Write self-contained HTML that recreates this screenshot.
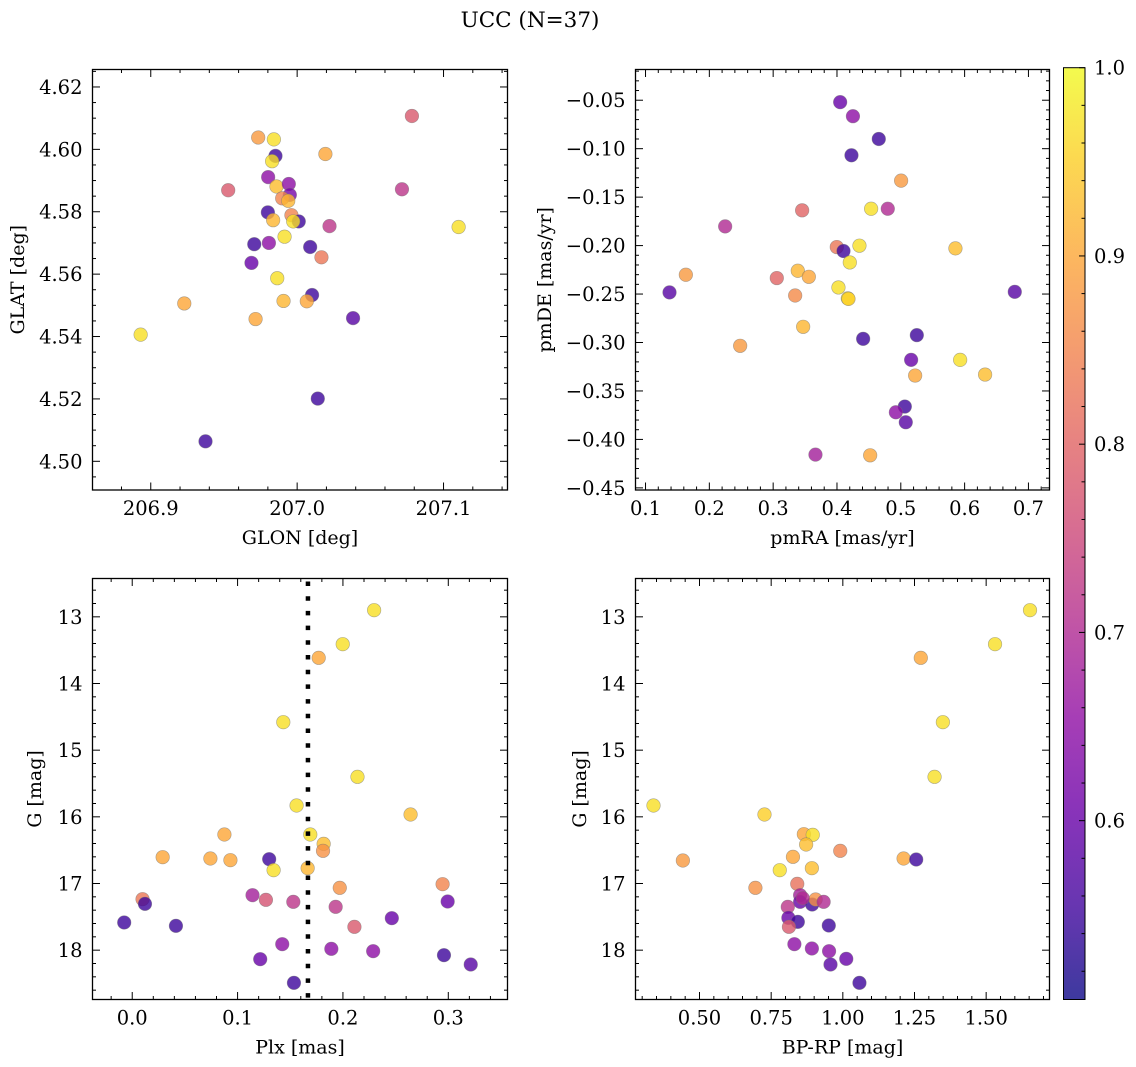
<!DOCTYPE html>
<html><head><meta charset="utf-8"><style>
html,body{margin:0;padding:0;background:#fff;}
svg{display:block;font-family:"DejaVu Serif","Liberation Serif",serif;}
</style></head><body>
<svg id="fig" width="1136" height="1067" viewBox="0 0 1136 1067" xmlns="http://www.w3.org/2000/svg">
<defs><linearGradient id="cbgrad" x1="0" y1="1" x2="0" y2="0"></linearGradient></defs>
<text x="530" y="27" font-size="21.5" text-anchor="middle">UCC (N=37)</text>
</svg>
<script>
// ---- Panel 1: GLON vs GLAT ----
const glon=[207.0784,206.9734,206.9841,207.0193,206.9852,206.9829,206.9529,206.9802,206.9859,206.9943,207.0716,206.9950,206.9898,206.9939,206.9800,206.9961,207.0011,206.9973,206.9836,207.0221,207.1103,206.9914,206.9707,206.9807,207.0089,207.0166,206.9688,206.9864,206.9229,207.0102,206.9907,207.0066,206.9716,207.0382,206.8931,207.0141,206.9374];
const glat=[4.6107,4.6038,4.6032,4.5985,4.5979,4.5962,4.5869,4.5911,4.5881,4.5889,4.5872,4.5854,4.5843,4.5835,4.5798,4.5789,4.5769,4.5769,4.5773,4.5754,4.5751,4.5720,4.5696,4.5700,4.5687,4.5654,4.5636,4.5587,4.5506,4.5533,4.5514,4.5513,4.5456,4.5459,4.5406,4.5201,4.5064];
const prob1=[0.78,0.88,0.97,0.9,0.55,0.97,0.78,0.65,0.93,0.65,0.72,0.62,0.85,0.92,0.55,0.85,0.55,0.97,0.92,0.72,0.97,0.97,0.55,0.65,0.55,0.83,0.6,0.97,0.9,0.55,0.92,0.9,0.9,0.58,0.97,0.55,0.55];
// ---- Panel 2: pmRA vs pmDE ----
const pmra=[0.405,0.425,0.4655,0.4227,0.5005,0.4535,0.4796,0.3454,0.2248,0.3997,0.4102,0.4352,0.5856,0.4201,0.1632,0.3057,0.3386,0.3559,0.1376,0.6786,0.4023,0.3345,0.4170,0.4180,0.3470,0.4410,0.5251,0.2483,0.5162,0.5930,0.5225,0.6321,0.5063,0.4922,0.5078,0.3663,0.4520];
const pmde=[-0.052,-0.0665,-0.090,-0.1068,-0.133,-0.162,-0.162,-0.1636,-0.1802,-0.2015,-0.2056,-0.2001,-0.2029,-0.2174,-0.2301,-0.2335,-0.226,-0.2322,-0.2483,-0.2477,-0.2432,-0.2515,-0.2545,-0.2550,-0.2838,-0.2962,-0.2924,-0.3034,-0.3179,-0.3179,-0.3341,-0.3331,-0.3661,-0.3720,-0.3823,-0.4157,-0.4164];
const prob2=[0.6,0.65,0.55,0.55,0.88,0.97,0.7,0.8,0.7,0.83,0.55,0.97,0.93,0.97,0.88,0.8,0.92,0.9,0.58,0.58,0.97,0.86,0.97,0.95,0.92,0.55,0.55,0.88,0.6,0.97,0.9,0.93,0.55,0.65,0.58,0.68,0.9];
// ---- Panel 3: Plx vs G ----
const plx=[0.2296,0.1998,0.1770,0.1434,0.2138,0.1560,0.2642,0.0875,0.1690,0.1817,0.1811,0.0289,0.0742,0.0932,0.1300,0.1342,0.1665,0.1970,0.2946,0.0098,0.0121,0.1142,0.1269,0.1529,0.1931,0.2994,0.2464,0.2109,-0.0076,0.0415,0.1424,0.1890,0.2287,0.2959,0.1215,0.3213,0.1535];
const gmag3=[12.90,13.41,13.615,14.58,15.40,15.83,15.965,16.265,16.265,16.405,16.51,16.605,16.625,16.65,16.635,16.80,16.77,17.065,17.01,17.235,17.305,17.175,17.245,17.275,17.35,17.27,17.52,17.65,17.585,17.635,17.91,17.98,18.015,18.075,18.135,18.215,18.49];
const prob3=[0.97,0.97,0.9,0.97,0.97,0.97,0.93,0.9,0.97,0.93,0.87,0.9,0.9,0.9,0.55,0.97,0.92,0.87,0.85,0.83,0.55,0.68,0.77,0.72,0.72,0.6,0.6,0.78,0.55,0.55,0.65,0.65,0.65,0.55,0.6,0.58,0.55];
const plxMean=[0.1668];
// ---- Panel 4: BP-RP vs G ----
const bprp=[1.653,1.531,1.272,1.349,1.320,0.3395,0.7267,0.864,0.895,0.872,0.991,0.826,0.442,1.212,1.256,0.892,0.780,0.695,0.841,0.851,0.851,0.893,0.905,0.933,0.808,0.810,0.843,0.812,0.951,0.831,0.892,0.952,1.012,0.957,1.058,0.860];
const gmag4=[12.90,13.41,13.615,14.58,15.40,15.83,15.965,16.26,16.27,16.415,16.51,16.60,16.655,16.625,16.64,16.77,16.80,17.065,17.005,17.175,17.275,17.315,17.24,17.275,17.35,17.515,17.575,17.65,17.63,17.91,17.975,18.015,18.13,18.215,18.49,17.22];
const prob4=[0.97,0.97,0.9,0.97,0.97,0.97,0.95,0.9,0.97,0.93,0.85,0.9,0.88,0.9,0.55,0.93,0.97,0.87,0.82,0.68,0.6,0.55,0.87,0.7,0.72,0.6,0.55,0.78,0.55,0.65,0.65,0.65,0.6,0.58,0.55,0.7];
// ---- Colorbar ----
const cbMin=0.505, cbMax=1.0;
const cbTicks=[0.6,0.7,0.8,0.9,1.0];

const NS="http://www.w3.org/2000/svg";
const svg=document.getElementById('fig');
const plasmaStops=[[13,8,135],[65,4,157],[106,0,168],[143,13,164],[177,42,144],[204,71,120],[225,100,98],[242,132,75],[252,166,54],[252,206,37],[240,249,33]];
function plasma(t){t=Math.max(0,Math.min(1,t));const f=t*10,i=Math.min(9,Math.floor(f)),r=f-i;const a=plasmaStops[i],b=plasmaStops[i+1];return 'rgb('+a.map((v,k)=>Math.round(v+(b[k]-v)*r)).join(',')+')';}
function mk(tag,attrs,parent){const e=document.createElementNS(NS,tag);for(const k in attrs)e.setAttribute(k,attrs[k]);(parent||svg).appendChild(e);return e;}
function fmt(v,d){let s=Math.abs(v)<1e-9?(0).toFixed(d):v.toFixed(d);return s.replace('-','\u2212');}

function panel(o){
  const g=mk('g',{});
  
  
  const sx=v=>o.x0+(v-o.xmin)/(o.xmax-o.xmin)*(o.x1-o.x0);
  const sy=o.inv?(v=>o.y0+(v-o.ymin)/(o.ymax-o.ymin)*(o.y1-o.y0)):(v=>o.y1-(v-o.ymin)/(o.ymax-o.ymin)*(o.y1-o.y0));
  const lo=Math.min(o.ymin,o.ymax),hi=Math.max(o.ymin,o.ymax);
  for(let i=0;i<Math.min(o.xs.length,o.ys.length);i++){
    const c=mk('circle',{cx:sx(o.xs[i]),cy:sy(o.ys[i]),r:6.8,fill:plasma((o.ps[i]-cbMin)/(cbMax-cbMin)),'fill-opacity':0.8,stroke:'#777','stroke-opacity':0.6,'stroke-width':0.6},g);
    
    
  }
  if(o.vline!==undefined){
    const l=mk('line',{x1:sx(o.vline),x2:sx(o.vline),y1:o.y0+3,y2:o.y1,stroke:'#000','stroke-width':4.5,'stroke-dasharray':'4.5 10.2'},g);
    
    
  }
  const tk=mk('g',{stroke:'#000','stroke-width':1},g);
  function ticks(min,max,minor,major,cb){const a=Math.ceil(min/minor-1e-6),b=Math.floor(max/minor+1e-6);for(let k=a;k<=b;k++){const v=k*minor;const isM=Math.abs(v/major-Math.round(v/major))<1e-6;cb(isM?Math.round(v/major)*major:v,isM);}}
  ticks(o.xmin,o.xmax,o.xminor,o.xmajor,(v,M)=>{const x=sx(v),L=M?7.5:3.5;
    mk('line',{x1:x,x2:x,y1:o.y1,y2:o.y1-L},tk);mk('line',{x1:x,x2:x,y1:o.y0,y2:o.y0+L},tk);
    if(M){const t=mk('text',{x:x,y:o.y1+25,'font-size':19.5,'text-anchor':'middle',stroke:'none',fill:'#000'},g);t.textContent=fmt(v,o.xdec);}});
  ticks(lo,hi,o.yminor,o.ymajor,(v,M)=>{const y=sy(v),L=M?7.5:3.5;
    mk('line',{x1:o.x0,x2:o.x0+L,y1:y,y2:y},tk);mk('line',{x1:o.x1,x2:o.x1-L,y1:y,y2:y},tk);
    if(M){const t=mk('text',{x:o.x0-10,y:y+7,'font-size':19.5,'text-anchor':'end',stroke:'none',fill:'#000'},g);t.textContent=fmt(v,o.ydec);}});
  const fr=mk('rect',{x:o.x0,y:o.y0,width:o.x1-o.x0,height:o.y1-o.y0,fill:'none',stroke:'#000','stroke-width':1.3},g);
  
  
  const xl=mk('text',{x:(o.x0+o.x1)/2,y:o.y1+54,'font-size':19,'text-anchor':'middle'},g);
  xl.textContent=o.xlabel;
  
  
  const yc=(o.y0+o.y1)/2;
  const yl=mk('text',{x:o.ylx,y:yc,'font-size':19,'text-anchor':'middle',transform:'rotate(-90 '+o.ylx+' '+yc+')'},g);
  yl.textContent=o.ylabel;
  
  
}

panel({name:'panel-glon-glat',x0:92.5,x1:507.5,y0:69.5,y1:490,xmin:206.8602,xmax:207.1437,ymin:4.4908,ymax:4.6256,xminor:0.02,xmajor:0.1,yminor:0.005,ymajor:0.02,xdec:1,ydec:2,xs:glon,ys:glat,ps:prob1,xlabel:'GLON [deg]',ylabel:'GLAT [deg]',ylx:24});
panel({name:'panel-pm',x0:635.5,x1:1049.5,y0:69.5,y1:490,xmin:0.0843,xmax:0.733,ymin:-0.4522,ymax:-0.0183,xminor:0.02,xmajor:0.1,yminor:0.01,ymajor:0.05,xdec:1,ydec:2,xs:pmra,ys:pmde,ps:prob2,xlabel:'pmRA [mas/yr]',ylabel:'pmDE [mas/yr]',ylx:551});
panel({name:'panel-plx-g',x0:92.5,x1:507.5,y0:578.5,y1:999.5,xmin:-0.0377,xmax:0.3562,ymin:12.425,ymax:18.74,inv:true,xminor:0.02,xmajor:0.1,yminor:0.2,ymajor:1,xdec:1,ydec:0,xs:plx,ys:gmag3,ps:prob3,vline:plxMean[0],xlabel:'Plx [mas]',ylabel:'G [mag]',ylx:41});
panel({name:'panel-cmd',x0:635.5,x1:1049.5,y0:578.5,y1:999.5,xmin:0.2767,xmax:1.721,ymin:12.425,ymax:18.74,inv:true,xminor:0.05,xmajor:0.25,yminor:0.2,ymajor:1,xdec:2,ydec:0,xs:bprp,ys:gmag4,ps:prob4,xlabel:'BP-RP [mag]',ylabel:'G [mag]',ylx:586});

const grad=document.getElementById('cbgrad');
for(let i=0;i<=20;i++){mk('stop',{offset:(i/20),'stop-color':plasma(i/20),'stop-opacity':0.8},grad);}
const cb=mk('g',{});


const cx0=1063.5,cx1=1085,cy0=67.7,cy1=999.5;
const cby=v=>cy1-(v-cbMin)/(cbMax-cbMin)*(cy1-cy0);
mk('rect',{x:cx0,y:cy0,width:cx1-cx0,height:cy1-cy0,fill:'url(#cbgrad)',stroke:'#000','stroke-width':1},cb);
for(let k=Math.ceil(cbMin/0.02-1e-6);k*0.02<=cbMax+1e-6;k++){
  const v=k*0.02,M=Math.abs(v*10-Math.round(v*10))<1e-6,y=cby(v);
  mk('line',{x1:cx1,x2:cx1-(M?6:3.5),y1:y,y2:y,stroke:'#000','stroke-width':1},cb);
}
cbTicks.forEach(v=>{
  const t=mk('text',{x:1094,y:cby(v)+7,'font-size':19.5},cb);
  t.textContent=v.toFixed(1);
  
  
});
</script>
</body></html>
